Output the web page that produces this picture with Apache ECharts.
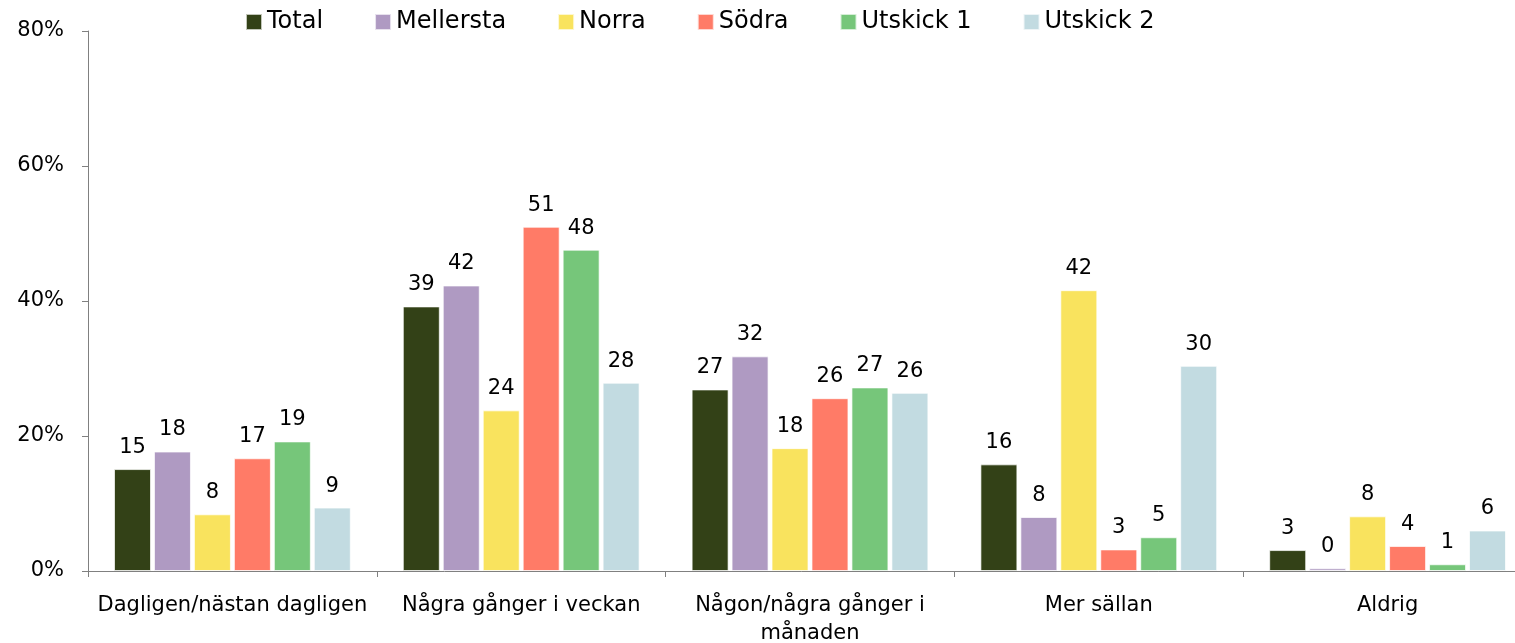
<!DOCTYPE html>
<html>
<head>
<meta charset="utf-8">
<script src="https://cdn.jsdelivr.net/npm/echarts@6/dist/echarts.min.js"></script>
<style>
  html, body { margin: 0; padding: 0; background: #fff; }
  #chart { width: 1515px; height: 643px; }
</style>
</head>
<body>
<div id="chart"></div>
<script>
var categories = ['Dagligen/nästan dagligen', 'Några gånger i veckan', 'Någon/några gånger i\nmånaden', 'Mer sällan', 'Aldrig'];
var total     = [15.1, 39.2, 26.9, 15.8, 3.1];
var mellersta = [17.7, 42.3, 31.8, 8.0, 0.4];
var norra     = [8.4, 23.8, 18.2, 41.6, 8.1];
var sodra     = [16.7, 51.0, 25.6, 3.2, 3.7];
var utskick1  = [19.2, 47.6, 27.2, 5.0, 1.0];
var utskick2  = [9.4, 27.9, 26.4, 30.4, 6.0];
var yTicks = [0, 20, 40, 60, 80];

var font = '"DejaVu Sans", sans-serif';

function bar(name, data, color) {
    return {
        name: name,
        type: 'bar',
        data: data,
        barWidth: 37,
        barGap: '8%',
        itemStyle: {
            color: color,
            borderColor: 'rgba(255,255,255,0.7)',
            borderWidth: 1
        },
        label: {
            show: true,
            position: 'top',
            distance: 11,
            color: '#000',
            fontFamily: font,
            fontSize: 21,
            formatter: function (p) {
                return Math.round(p.value);
            }
        }
    };
}

var chart = echarts.init(document.getElementById('chart'));
chart.setOption({
    animation: false,
    textStyle: { fontFamily: font },
    legend: {
        top: 5,
        left: 240,
        itemWidth: 16,
        itemHeight: 16,
        itemGap: 51,
        icon: 'rect',
        textStyle: { fontFamily: font, fontSize: 24, color: '#000' }
    },
    grid: {
        left: 88,
        top: 31,
        width: 1444,
        bottom: 72,
        outerBoundsMode: 'none',
        containLabel: false
    },
    xAxis: {
        type: 'category',
        data: categories,
        axisLine: { lineStyle: { color: '#808080', width: 1 } },
        axisTick: { show: true, length: 6, lineStyle: { color: '#808080' } },
        axisLabel: {
            color: '#000',
            fontFamily: font,
            fontSize: 21,
            margin: 21,
            lineHeight: 28,
            interval: 0
        }
    },
    yAxis: {
        type: 'value',
        min: yTicks[0],
        max: yTicks[yTicks.length - 1],
        interval: 20,
        splitLine: { show: false },
        axisLine: { show: true, lineStyle: { color: '#808080', width: 1 } },
        axisTick: { show: true, length: 6, lineStyle: { color: '#808080' } },
        axisLabel: {
            color: '#000',
            fontFamily: font,
            fontSize: 21,
            margin: 24,
            formatter: '{value}%'
        }
    },
    series: [
        bar('Total', total, '#334117'),
        bar('Mellersta', mellersta, '#AF9AC2'),
        bar('Norra', norra, '#F9E35E'),
        bar('Södra', sodra, '#FF7B67'),
        bar('Utskick 1', utskick1, '#76C67A'),
        bar('Utskick 2', utskick2, '#C2DBE1')
    ]
});

window.addEventListener('resize', function () {
    chart.resize();
});
</script>
</body>
</html>
